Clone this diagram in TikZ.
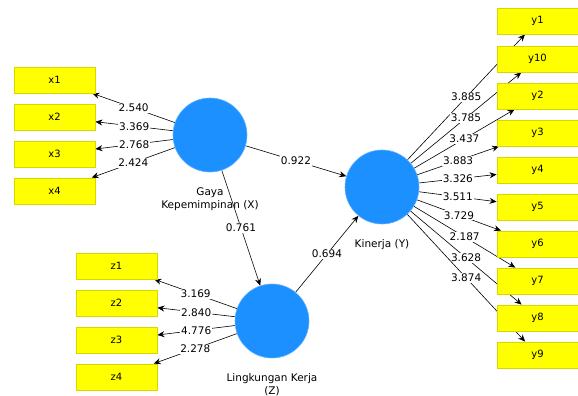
\documentclass[tikz,border=0pt]{standalone}
\usepackage{fontspec}
\setmainfont{DejaVu Sans}
\usepackage{tikz}
\usepackage{xcolor}
\usetikzlibrary{positioning,arrows.meta,backgrounds}

\definecolor{boxyellow}{RGB}{255,255,0}
\definecolor{boxedge}{RGB}{215,215,0}
\definecolor{latentblue}{RGB}{28,144,255}
\definecolor{latentedge}{RGB}{95,178,255}

\tikzset{
	indicator/.style={draw=boxedge, fill=boxyellow, line width=0.8pt, minimum width=81pt, minimum height=26pt, inner sep=0pt, font=\fontsize{10}{12}\selectfont},
	latent/.style={circle, draw=latentedge, fill=latentblue, line width=0.6pt, minimum size=74pt, inner sep=0pt},
	latentname/.style={align=center, inner sep=0pt, font=\fontsize{10.5}{13}\selectfont},
	loading/.style={draw, line width=0.6pt, -{Stealth[length=7pt,width=6pt]}},
	coef/.style={midway, fill=white, inner sep=1pt, font=\fontsize{10.5}{12}\selectfont}
}

\begin{document}
\begin{tikzpicture}[x=1pt, y=-1pt]
		\useasboundingbox (0,0) rectangle (578,396);
		% latent variables
		\node[latent] (gaya) at (210,135) {};
		\node[latent] (kinerja) at (382,187) {};
		\node[latent] (lingkungan) at (272,321) {};
		\node[latentname, below=15pt of gaya] (gayaname) {Gaya\\Kepemimpinan (X)};
		\node[latentname, below=15pt of kinerja] (kinerjaname) {Kinerja (Y)};
		\node[latentname, below=15pt of lingkungan] (lingkunganname) {Lingkungan Kerja\\(Z)};
		% indicators
		\node[indicator] (x1) at (54.5,80) {x1};
		\node[indicator] (x2) at (54.5,117) {x2};
		\node[indicator] (x3) at (54.5,154) {x3};
		\node[indicator] (x4) at (54.5,191) {x4};
		\node[indicator] (z1) at (116.5,266) {z1};
		\node[indicator] (z2) at (116.5,303) {z2};
		\node[indicator] (z3) at (116.5,340) {z3};
		\node[indicator] (z4) at (116.5,377) {z4};
		\node[indicator] (y1) at (537.5,21) {y1};
		\node[indicator] (y10) at (537.5,59) {y10};
		\node[indicator] (y2) at (537.5,96) {y2};
		\node[indicator] (y3) at (537.5,133) {y3};
		\node[indicator] (y4) at (537.5,170) {y4};
		\node[indicator] (y5) at (537.5,207) {y5};
		\node[indicator] (y6) at (537.5,244) {y6};
		\node[indicator] (y7) at (537.5,281) {y7};
		\node[indicator] (y8) at (537.5,318) {y8};
		\node[indicator] (y9) at (537.5,355) {y9};
		\begin{pgfonlayer}{background}
		% outer loadings
		\draw[loading] (gaya) -- node[coef] {2.540} (x1);
		\draw[loading] (gaya) -- node[coef] {3.369} (x2);
		\draw[loading] (gaya) -- node[coef] {2.768} (x3);
		\draw[loading] (gaya) -- node[coef] {2.424} (x4);
		\draw[loading] (lingkungan) -- node[coef] {3.169} (z1);
		\draw[loading] (lingkungan) -- node[coef] {2.840} (z2);
		\draw[loading] (lingkungan) -- node[coef] {4.776} (z3);
		\draw[loading] (lingkungan) -- node[coef] {2.278} (z4);
		\draw[loading] (kinerja) -- node[coef] {3.885} (y1);
		\draw[loading] (kinerja) -- node[coef] {3.785} (y10);
		\draw[loading] (kinerja) -- node[coef] {3.437} (y2);
		\draw[loading] (kinerja) -- node[coef] {3.883} (y3);
		\draw[loading] (kinerja) -- node[coef] {3.326} (y4);
		\draw[loading] (kinerja) -- node[coef] {3.511} (y5);
		\draw[loading] (kinerja) -- node[coef] {3.729} (y6);
		\draw[loading] (kinerja) -- node[coef] {2.187} (y7);
		\draw[loading] (kinerja) -- node[coef] {3.628} (y8);
		\draw[loading] (kinerja) -- node[coef] {3.874} (y9);
		% inner paths
		\draw[loading] (gaya) -- node[coef] {0.922} (kinerja);
		\draw[loading] (gaya) -- node[coef] {0.761} (lingkungan);
		\draw[loading] (lingkungan) -- node[coef] {0.694} (kinerja);
		\end{pgfonlayer}
	\end{tikzpicture}
\end{document}
